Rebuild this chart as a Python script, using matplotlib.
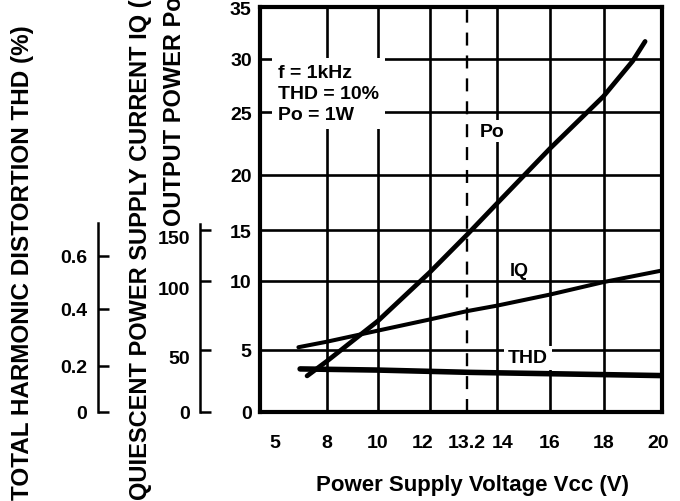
import numpy as np
import matplotlib
matplotlib.use('Agg')
import matplotlib.pyplot as plt
from matplotlib.ticker import FixedLocator
from matplotlib.transforms import ScaledTranslation

plt.rcParams['font.family'] = ['Liberation Sans', 'DejaVu Sans']
plt.rcParams['font.weight'] = 'bold'

# curves
vcc_po = [6.85, 8, 10, 12, 13.2, 14, 16, 18, 19, 19.43]
po = [2.9, 4.1, 7.1, 10.8, 14.5, 17.4, 22.1, 26.5, 29.8, 31.7]
vcc_iq = [6.35, 8, 10, 12, 13.2, 14, 16, 18, 20]
iq = [52, 56, 64, 72, 78, 82, 90, 99, 110]
vcc_thd = [6.45, 10, 13.3, 20]
thd = [0.186, 0.181, 0.171, 0.157]

x_ticks = [5, 8, 10, 12, 13.2, 14, 16, 18, 20]
x_labels = ['5', '8', '10', '12', '13.2', '14', '16', '18', '20']
x_grid = [8, 10, 12, 14, 16, 18]
po_ticks = [0, 5, 10, 15, 20, 25, 30, 35]
iq_ticks = [0, 50, 100, 150]
thd_ticks = [0, 0.2, 0.4, 0.6]
thd_labels = ['0', '0.2', '0.4', '0.6']
rated_vcc = 13.2
conditions = 'f = 1kHz\nTHD = 10%\nPo = 1W'


# the printed graph is hand drawn, grid spacing is not even
def knot_scale(vals, pos):
    vals = np.asarray(vals, float)
    pos = np.asarray(pos, float)
    return (lambda v: np.interp(v, vals, pos),
            lambda p: np.interp(p, pos, vals))

x_knots = [4.6, 5, 8, 10, 12, 13.2, 14, 16, 18, 20]
x_pos = [0, 15, 67, 118, 169.5, 206.7, 237, 290, 343.5, 401.7]
po_knots = [0, 5, 10, 15, 20, 25, 30, 35]
y_pos = [0, 61.7, 131, 181.7, 237, 299.4, 352.7, 404.4]
thd_knots = [0, 0.2, 0.4, 0.6, 1.5]
thd_pos = [0, 46, 102.7, 156, 404.4]

fig = plt.figure(figsize=(6.8, 5.02), dpi=100)
rect = [260/680, (502-412.7)/502, 401.7/680, 404.4/502]
ax = fig.add_axes(rect)
ax.set_xscale('function', functions=knot_scale(x_knots, x_pos))
ax.set_yscale('function', functions=knot_scale(po_knots, y_pos))
ax.set_xlim(4.6, 20)
ax.set_ylim(0, 35)

ax.set_xticks(x_ticks)
ax.set_xticklabels(x_labels)
ax.xaxis.remove_overlapping_locs = False
ax.xaxis.set_minor_locator(FixedLocator(x_grid))
ax.set_yticks(po_ticks)
ax.tick_params(which='both', length=0, labelsize=14)
ax.tick_params(axis='x', pad=16)
ax.tick_params(axis='y', pad=6)
ax.grid(axis='y', which='major', color='black', lw=1.9)
ax.xaxis.grid(True, which='minor', color='black', lw=1.9)
ax.xaxis.grid(False, which='major')
for s in ax.spines.values():
    s.set_linewidth(3)

# nudge crowded x labels like on the printed sheet
x_shift = {'12': -7, '14': 6, '20': -4}
for lab in ax.get_xticklabels():
    dx = x_shift.get(lab.get_text(), 0)
    if dx:
        lab.set_transform(lab.get_transform() + ScaledTranslation(dx/100, 0, fig.dpi_scale_trans))

ax.axvline(rated_vcc, color='black', lw=1.7, ls=(0, (5.5, 4.2)), zorder=2)
ax.plot(vcc_po, po, color='black', lw=3.4, solid_capstyle='round', zorder=4)

ax.text(0.045, 0.86, conditions, transform=ax.transAxes, ha='left', va='top',
        fontsize=14, linespacing=1.3, zorder=3,
        bbox=dict(boxstyle='square,pad=0.3', fc='white', ec='none'))
ax.text(0.578, 0.694, 'Po', transform=ax.transAxes, ha='center', va='center',
        fontsize=14, zorder=3,
        bbox=dict(boxstyle='square,pad=0.15', fc='white', ec='none'))
ax.text(0.645, 0.35, 'IQ', transform=ax.transAxes, ha='center', va='center',
        fontsize=13, zorder=3)
ax.text(0.667, 0.133, 'THD', transform=ax.transAxes, ha='center', va='center',
        fontsize=14, zorder=3,
        bbox=dict(boxstyle='square,pad=0.2', fc='white', ec='none'))


def side_axis(offset, top, pad):
    a = fig.add_axes(rect, sharex=ax)
    a.patch.set_visible(False)
    for k in ['top', 'right', 'bottom']:
        a.spines[k].set_visible(False)
    a.spines['left'].set_position(('axes', offset))
    a.spines['left'].set_linewidth(1.8)
    a.spines['left'].set_bounds(0, top)
    a.xaxis.set_visible(False)
    a.tick_params(axis='y', direction='in', length=8, width=1.8,
                  labelsize=14, pad=pad)
    return a

ax_iq = side_axis(-0.149, 155, 7)
ax_iq.set_yscale('function', functions=knot_scale(np.array(po_knots)*10, y_pos))
ax_iq.set_ylim(0, 350)
ax_iq.set_yticks(iq_ticks)
for lab in ax_iq.get_yticklabels()[1:]:
    lab.set_va('top')
ax_iq.plot(vcc_iq, iq, color='black', lw=2.9, solid_capstyle='round')

ax_thd = side_axis(-0.4025, 0.72, 8)
ax_thd.set_yscale('function', functions=knot_scale(thd_knots, thd_pos))
ax_thd.set_ylim(0, 1.5)
ax_thd.set_yticks(thd_ticks)
ax_thd.set_yticklabels(thd_labels)
ax_thd.plot(vcc_thd, thd, color='black', lw=4, solid_capstyle='round')

fig.text(23/680, 2/502, 'TOTAL HARMONIC DISTORTION THD (%)', rotation=90,
         ha='center', va='bottom', fontsize=17.5)
fig.text(141/680, 2/502, 'QUIESCENT POWER SUPPLY CURRENT IQ (mA)', rotation=90,
         ha='center', va='bottom', fontsize=17)
fig.text(174/680, (502-226)/502, 'OUTPUT POWER Po (W)', rotation=90,
         ha='center', va='bottom', fontsize=17)
fig.text(473/680, (502-485.7)/502, 'Power Supply Voltage Vcc (V)',
         ha='center', va='center', fontsize=16)

fig.savefig('out.png', dpi=100)
